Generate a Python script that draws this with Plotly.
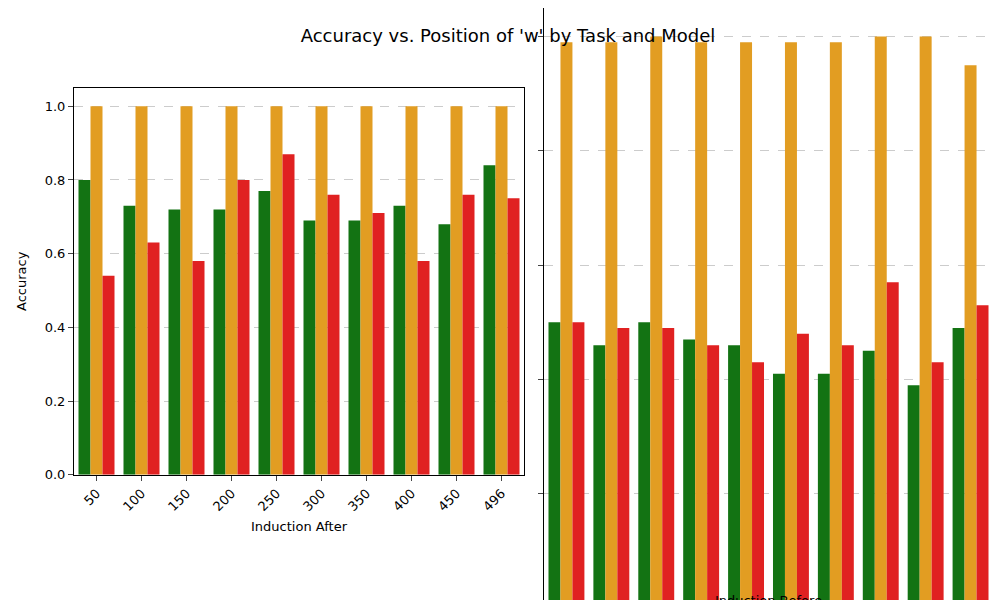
import plotly.graph_objects as go
from plotly.subplots import make_subplots

positions = ["50", "100", "150", "200", "250", "300", "350", "400", "450", "496"]
after_green = [0.80, 0.73, 0.72, 0.72, 0.77, 0.69, 0.69, 0.73, 0.68, 0.84]
after_orange = [1.0, 1.0, 1.0, 1.0, 1.0, 1.0, 1.0, 1.0, 1.0, 1.0]
after_red = [0.54, 0.63, 0.58, 0.80, 0.87, 0.76, 0.71, 0.58, 0.76, 0.75]
before_green = [0.50, 0.46, 0.50, 0.47, 0.46, 0.41, 0.41, 0.45, 0.39, 0.49]
before_orange = [0.99, 0.99, 1.0, 0.99, 0.99, 0.99, 0.99, 1.0, 1.0, 0.95]
before_red = [0.50, 0.49, 0.49, 0.46, 0.43, 0.48, 0.46, 0.57, 0.43, 0.53]

colors = ["#137313", "#e29d22", "#e02121"]

fig = make_subplots(rows=1, cols=2, shared_yaxes=True)
for col, series in [(1, [after_green, after_orange, after_red]),
                    (2, [before_green, before_orange, before_red])]:
    for vals, c in zip(series, colors):
        fig.add_trace(go.Bar(x=positions, y=vals, marker_color=c, marker_line_width=0,
                             showlegend=False), row=1, col=col)

fig.update_layout(
    width=1000, height=600, barmode="group", bargap=0.2, bargroupgap=0,
    plot_bgcolor="white", paper_bgcolor="white",
    font=dict(family="DejaVu Sans", size=13, color="black"),
    title=dict(text="Accuracy vs. Position of 'w' by Task and Model", x=0.5, y=0.965,
               font=dict(size=18)),
    margin=dict(l=0, r=0, t=0, b=0),
    xaxis=dict(domain=[0.066, 0.516]),
    xaxis2=dict(domain=[0.536, 0.985]),
    yaxis=dict(domain=[0.222, 0.867]),
)
fig.update_xaxes(showline=True, mirror=True, linecolor="black", ticks="outside",
                 tickangle=-45, tickfont=dict(size=13), automargin=False)
fig.update_xaxes(title_text="Induction After", title_font_size=13, title_standoff=8, row=1, col=1)
fig.update_xaxes(title_text="Induction Before", title_font_size=13, title_standoff=8, row=1, col=2)
fig.update_yaxes(range=[0, 1.05], dtick=0.2, tickformat=".1f", showline=True, mirror=True,
                 linecolor="black", ticks="outside", showgrid=True, gridcolor="#cccccc",
                 griddash="dash", zeroline=False, automargin=False)
fig.update_yaxes(title_text="Accuracy", title_font_size=13, row=1, col=1)

fig.write_html("out.html")
